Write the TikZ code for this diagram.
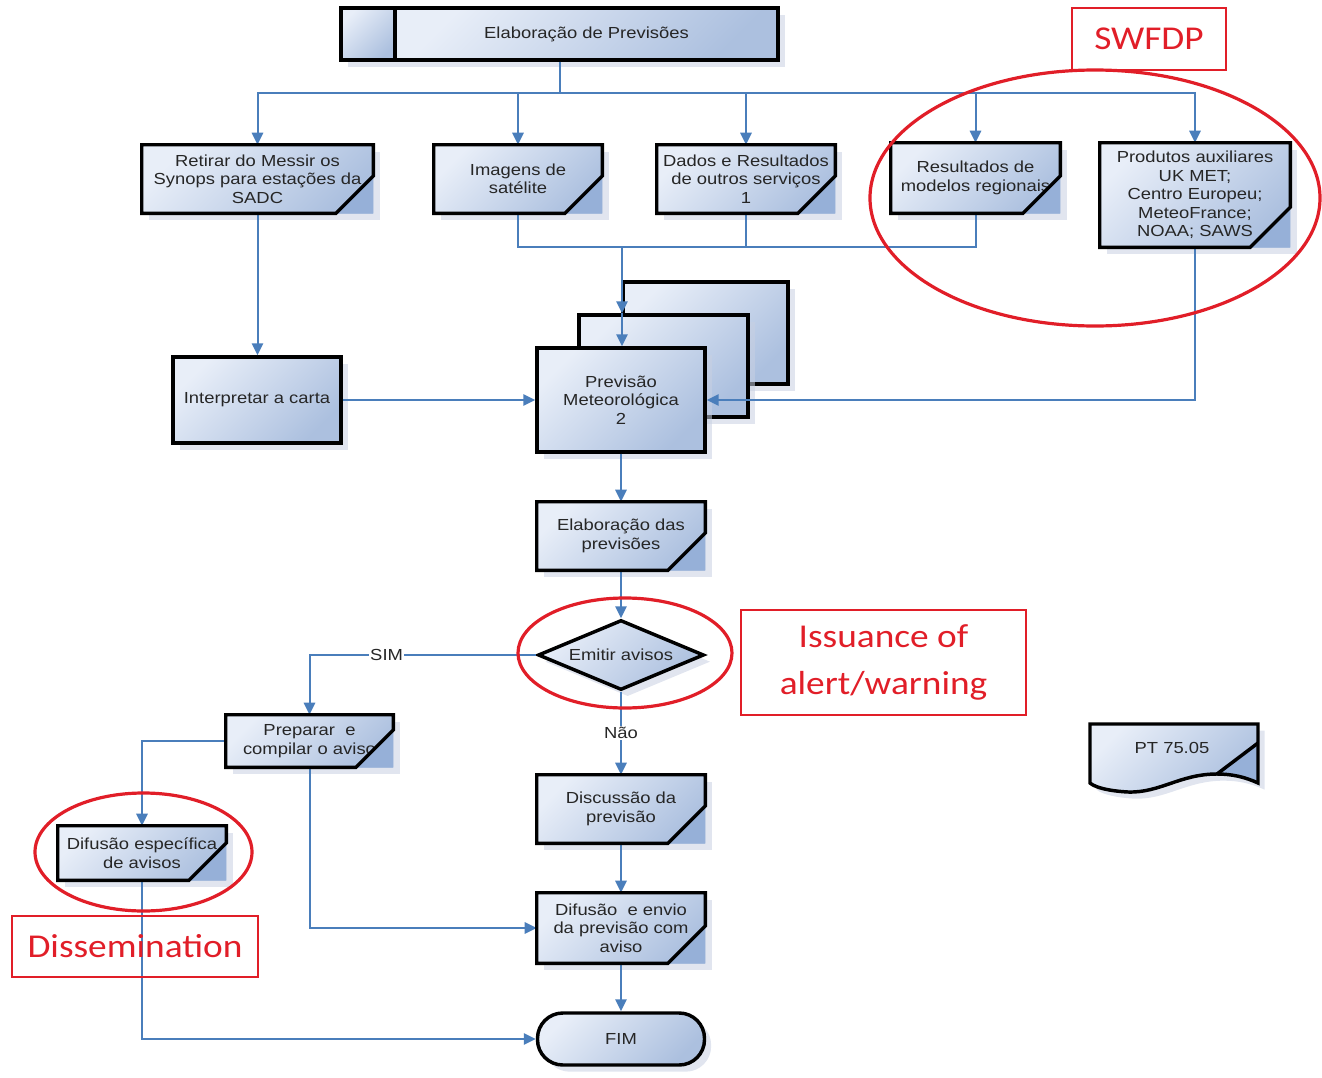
\documentclass[tikz,border=0pt]{standalone}
\usepackage{fontspec}
\setmainfont[FakeStretch=1.15]{Liberation Sans}
\newfontfamily\calfont[FakeStretch=1.12]{Carlito}
\usetikzlibrary{shapes.geometric,shadows,arrows.meta}
\definecolor{conncol}{RGB}{74,126,187}
\definecolor{boxA}{RGB}{232,238,248}
\definecolor{boxB}{RGB}{172,192,223}
\definecolor{foldcol}{RGB}{150,176,216}
\definecolor{shadowcol}{RGB}{200,208,226}
\definecolor{redcol}{RGB}{225,30,40}
\newcommand\boxfont{\fontsize{12}{13.9}\selectfont}
\newcommand\redfont{\calfont\fontsize{25}{35}\selectfont}
\tikzset{
 boxfill/.style={top color=boxA, bottom color=boxB, shading angle=45},
 shad/.style={drop shadow={shadow xshift=5pt, shadow yshift=-5pt, fill=shadowcol, opacity=0.55}},
 pbox/.style={rectangle, inner sep=0pt, boxfill, shad, align=center, font=\boxfont, text=black!85},
 plainbox/.style={pbox, draw=black, line width=2.6pt},
 conn/.style={draw=conncol, line width=1.5pt},
 arr/.style={conn, -{Triangle[length=9pt,width=8.5pt]}},
 lbl/.style={font=\boxfont, fill=white, inner sep=1pt, text=black!85},
 redbox/.style={draw=redcol, line width=0.8pt, font=\redfont, text=redcol, align=center, inner sep=0pt},
 redell/.style={draw=redcol, line width=2.4pt, ellipse, inner sep=0pt},
}
% style, name, x1, y1, x2, y2, text
\newcommand\mkbox[7]{%
 \node[#1, minimum width={(#5-#3)*0.75pt}, minimum height={(#6-#4)*0.75pt}] (#2) at ({(#3+#5)/2},{(#4+#6)/2}) {#7};}
% name, fold size
\newcommand\foldit[2]{%
 \fill[foldcol] ([xshift=-#2]#1.south east) -- (#1.south east) -- ([yshift=#2]#1.south east) -- cycle;
 \draw[black, line width=2.6pt, line join=miter] ([yshift=#2]#1.south east) -- (#1.north east) -- (#1.north west) -- (#1.south west) -- ([xshift=-#2]#1.south east) -- cycle;}
\begin{document}
\begin{tikzpicture}[x=0.75pt, y=-0.75pt]
\useasboundingbox (0,0) rectangle (1322,1078);

% top box
\mkbox{plainbox}{topL}{341}{8}{395}{60}{}
\mkbox{plainbox}{top}{395}{8}{778}{60}{Elaboração de Previsões}

% first row
\mkbox{pbox}{b1}{142}{145}{373}{213}{Retirar do Messir os\\Synops para estações da\\SADC}
\mkbox{pbox}{b2}{434}{145}{602}{213}{Imagens de\\satélite}
\mkbox{pbox}{b3}{657}{145}{835}{213}{Dados e Resultados\\de outros serviços\\1}
\mkbox{pbox}{b4}{891}{143}{1060}{213}{Resultados de\\modelos regionais}
\mkbox{pbox}{b5}{1100}{143}{1290}{247}{Produtos auxiliares\\UK MET;\\Centro Europeu;\\MeteoFrance;\\NOAA; SAWS}

% middle
\mkbox{plainbox}{interp}{173}{357}{341}{443}{Interpretar a carta}
\mkbox{plainbox}{back}{623}{282}{788}{384}{}
\mkbox{plainbox}{mid}{579}{315}{748}{417}{}
\mkbox{plainbox}{prev}{537}{348}{705}{452}{Previsão\\Meteorológica\\2}
\mkbox{pbox}{elab}{537}{502}{705}{570}{Elaboração das\\previsões}
\node[diamond, inner sep=0pt, aspect=2.37, minimum width=124.5pt, minimum height=52.5pt, boxfill, shad, draw=black, line width=2.6pt, font=\boxfont, text=black!85] (dia) at (621,655) {Emitir avisos};

% lower
\mkbox{pbox}{prep}{226}{715}{393}{767}{Preparar\ \ e\\compilar o aviso}
\mkbox{pbox}{disc}{537}{775}{705}{843}{Discussão da\\previsão}
\mkbox{pbox}{difesp}{58}{826}{226}{880}{Difusão específica\\de avisos}
\mkbox{pbox}{dif2}{537}{893}{705}{963}{Difusão\ \ e envio\\da previsão com\\aviso}
\node[plainbox, rounded corners=19pt, minimum width=125.25pt, minimum height=39pt] (fim) at (621,1039) {FIM};

% document shape
\path[shad, boxfill] (1090,724) -- (1258,724) -- (1258,783) .. controls (1245,777) and (1232,774) .. (1217,774) .. controls (1180,774) and (1160,793) .. (1128,792) .. controls (1110,791) and (1096,788) .. (1090,783) -- cycle;
\fill[foldcol] (1217,774) -- (1258,743) -- (1258,783) .. controls (1245,777) and (1232,774) .. (1217,774);
\draw[black, line width=2.6pt, line join=miter] (1090,724) -- (1258,724) -- (1258,783) .. controls (1245,777) and (1232,774) .. (1217,774) .. controls (1180,774) and (1160,793) .. (1128,792) .. controls (1110,791) and (1096,788) .. (1090,783) -- cycle;
\draw[black, line width=2.6pt] (1217,774) -- (1258,743);
\node[font=\boxfont, text=black!85] (pt) at (1172,748) {PT 75.05};

% connectors
\coordinate (split) at (560,93);
\coordinate (join) at (622,247);
\draw[conn] (top.south -| split) -- (split);
\foreach \n in {b1,b2,b3,b4,b5} \draw[arr] (split) -| (\n.north);
\draw[arr] (b1.south) -- (b1.south |- interp.north);
\draw[conn] (b2.south) |- (b4.south |- join) -- (b4.south);
\draw[conn] (b3.south) -- (b3.south |- join);
\draw[arr] (join) -- (join |- mid.north);
\draw[arr] (join |- mid.north) -- (join |- prev.north);
\draw[arr] (interp) -- (prev);
\draw[arr] (b5.south) |- (prev.east);
\draw[arr] (prev) -- (elab);
\draw[arr] (elab) -- (dia);
\draw[arr] (dia.west) -| node[lbl, pos=0.33] (sim) {SIM} (prep.north);
\draw[arr] (dia.south) -- node[lbl] (nao) {Não} (disc.north);
\draw[arr] (disc) -- (dif2);
\draw[arr] (dif2) -- (fim);
\draw[arr] (prep.west) -| (difesp.north);
\draw[arr] (prep.south) |- (dif2.west);
\draw[arr] (difesp.south) |- (fim.west);

% folded corners
\foldit{b1}{28pt}
\foldit{b2}{28pt}
\foldit{b3}{28pt}
\foldit{b4}{28pt}
\foldit{b5}{30pt}
\foldit{elab}{28pt}
\foldit{prep}{28pt}
\foldit{disc}{28pt}
\foldit{difesp}{28pt}
\foldit{dif2}{28pt}

% red annotations
\node[redbox, minimum width=115.5pt, minimum height=46.5pt] (swf) at (1149,39) {SWFDP};
\node[redbox, minimum width=213.75pt, minimum height=78.75pt] (iss) at (883.5,662.5) {Issuance of\\alert/warning};
\node[redbox, minimum width=184.5pt, minimum height=45.75pt] (dis) at (135,946.5) {Dissemination};
\node[redell, minimum width=337.5pt, minimum height=192pt] (e1) at (1095,198) {};
\node[redell, minimum width=160.5pt, minimum height=82.5pt] (e2) at (625,653) {};
\node[redell, minimum width=162.75pt, minimum height=88.5pt] (e3) at (143.5,852) {};
\end{tikzpicture}
\end{document}
